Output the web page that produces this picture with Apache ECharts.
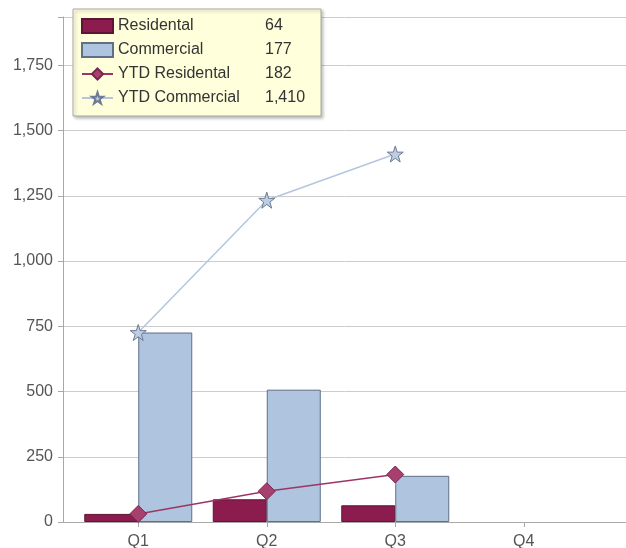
<!DOCTYPE html>
<html>
<head>
<meta charset="utf-8">
<script src="https://cdn.jsdelivr.net/npm/echarts@6/dist/echarts.min.js"></script>
<style>
html,body{margin:0;padding:0;background:#fff;}
#chart{width:626px;height:548px;}
</style>
</head>
<body>
<div id="chart"></div>
<script>
var categories = ['Q1', 'Q2', 'Q3', 'Q4'];
var residental = [31, 87, 64, null];
var commercial = [726, 507, 177, null];
var ytdResidental = [31, 118, 182, null];
var ytdCommercial = [726, 1233, 1410, null];
var yTicks = [0, 250, 500, 750, 1000, 1250, 1500, 1750];
var yMax = 1935;

function lastVal(arr) {
  for (var i = arr.length - 1; i >= 0; i--) if (arr[i] != null) return arr[i];
  return '';
}
function fmt(v) { return Number(v).toLocaleString('en-US'); }

var legendValues = {
  'Residental': lastVal(residental),
  'Commercial': lastVal(commercial),
  'YTD Residental': lastVal(ytdResidental),
  'YTD Commercial': lastVal(ytdCommercial)
};

var starPath = 'path://M50,0 L61.8,35.4 L99,35.4 L69,57.3 L80.4,92.7 L50,70.8 L19.6,92.7 L31,57.3 L1,35.4 L38.2,35.4 Z';
var font = 'Liberation Sans, Arial, sans-serif';

var chart = echarts.init(document.getElementById('chart'), null, {renderer: 'canvas'});
chart.setOption({
  animation: false,
  backgroundColor: '#fff',
  textStyle: {fontFamily: font},
  grid: [
    {left: 74, width: 514, top: 17, bottom: 26, containLabel: false, outerBoundsMode: 'none'},
    {left: 63, right: 0, top: 17, bottom: 26, containLabel: false, outerBoundsMode: 'none'}
  ],
  legend: {
    orient: 'vertical',
    left: 73,
    top: 9,
    padding: [9, 16, 10, 8],
    itemWidth: 31,
    itemHeight: 14,
    itemGap: 8,
    backgroundColor: '#ffffdc',
    borderColor: '#a8a8a0',
    borderWidth: 1,
    shadowBlur: 3,
    shadowColor: 'rgba(0,0,0,0.25)',
    shadowOffsetX: 2,
    shadowOffsetY: 2,
    selectedMode: false,
    data: [
      {name: 'Residental', icon: 'rect'},
      {name: 'Commercial', icon: 'rect'},
      {name: 'YTD Residental'},
      {name: 'YTD Commercial'}
    ],
    formatter: function (name) {
      return '{n|' + name + '}{v|' + fmt(legendValues[name]) + '}';
    },
    textStyle: {
      fontFamily: font,
      fontSize: 16,
      color: '#333',
      rich: {
        n: {width: 147, fontSize: 16, color: '#333', fontFamily: font},
        v: {fontSize: 16, color: '#333', fontFamily: font}
      }
    }
  },
  xAxis: [
    {
      type: 'category',
      gridIndex: 0,
      data: categories,
      axisLine: {show: false},
      axisTick: {show: true, alignWithLabel: true, length: 5, lineStyle: {color: '#a8a8a8'}},
      axisLabel: {fontSize: 16, color: '#555', margin: 12, fontFamily: font},
      splitLine: {show: false}
    },
    {
      type: 'value',
      gridIndex: 1,
      min: 0,
      max: 1,
      axisLine: {show: true, lineStyle: {color: '#a8a8a8', width: 1}},
      axisTick: {show: false},
      axisLabel: {show: false},
      splitLine: {show: false}
    }
  ],
  yAxis: [
    {
      type: 'value',
      gridIndex: 0,
      min: 0,
      max: yMax,
      interval: 250,
      show: false,
      splitLine: {show: false}
    },
    {
      type: 'value',
      gridIndex: 1,
      min: 0,
      max: yMax,
      interval: 250,
      axisLine: {show: true, lineStyle: {color: '#a8a8a8', width: 1}},
      axisTick: {show: true, length: 5, lineStyle: {color: '#a8a8a8'}},
      axisLabel: {
        fontSize: 16,
        color: '#555',
        margin: 10,
        fontFamily: font,
        showMaxLabel: true,
        formatter: function (v) { return yTicks.indexOf(v) >= 0 ? fmt(v) : ''; }
      },
      splitLine: {show: true, lineStyle: {color: '#cccccc', width: 1}}
    }
  ],
  series: [
    {
      name: 'Residental',
      type: 'bar',
      xAxisIndex: 0,
      yAxisIndex: 0,
      data: residental,
      barWidth: 54,
      barGap: '0%',
      itemStyle: {color: '#8c1c4e', borderColor: '#5e1434', borderWidth: 1}
    },
    {
      name: 'Commercial',
      type: 'bar',
      xAxisIndex: 0,
      yAxisIndex: 0,
      data: commercial,
      barWidth: 54,
      barGap: '0%',
      itemStyle: {color: '#afc4de', borderColor: '#5f6f86', borderWidth: 1}
    },
    {
      name: 'YTD Residental',
      type: 'line',
      xAxisIndex: 0,
      yAxisIndex: 0,
      data: ytdResidental,
      symbol: 'diamond',
      symbolSize: 17,
      z: 5,
      lineStyle: {color: '#9c3566', width: 1.5},
      itemStyle: {color: '#a6416f', borderColor: '#7a2550', borderWidth: 1}
    },
    {
      name: 'YTD Commercial',
      type: 'line',
      xAxisIndex: 0,
      yAxisIndex: 0,
      data: ytdCommercial,
      symbol: starPath,
      symbolSize: 16,
      z: 5,
      lineStyle: {color: '#b4c6de', width: 1.5},
      itemStyle: {color: '#bccde4', borderColor: '#6c7b92', borderWidth: 1}
    }
  ]
});
</script>
</body>
</html>
